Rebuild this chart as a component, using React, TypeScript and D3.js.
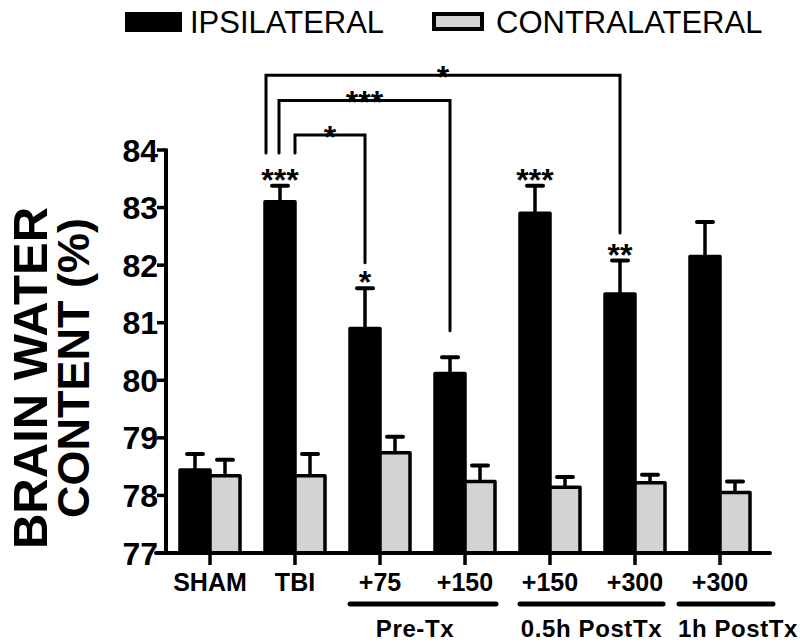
import React from "react";
import * as d3 from "d3";

const groupIds = ["sham", "tbi", "pre75", "pre150", "post05_150", "post05_300", "post1_300"];
const groupLabels = ["SHAM", "TBI", "+75", "+150", "+150", "+300", "+300"];
const ipsiMean = [78.44, 83.1, 80.9, 80.12, 82.9, 81.5, 82.15];
const ipsiErr = [0.28, 0.28, 0.7, 0.28, 0.48, 0.58, 0.6];
const contraMean = [78.34, 78.34, 78.74, 78.24, 78.14, 78.22, 78.05];
const contraErr = [0.28, 0.38, 0.28, 0.28, 0.18, 0.14, 0.19];
const yTicks = [77, 78, 79, 80, 81, 82, 83, 84];
const seriesNames = ["IPSILATERAL", "CONTRALATERAL"];
// stars above ipsilateral bars (vs sham)
const starGroups = ["tbi", "pre75", "post05_150", "post05_300"];
const starLabels = ["***", "*", "***", "**"];
// comparison brackets from TBI
const bracketTargets = ["post05_300", "pre150", "pre75"];
const bracketLabels = ["*", "***", "*"];
const bracketLevels = [85.3, 84.86, 84.26];
const bracketLeftEnd = [83.95, 83.95, 83.95];
const bracketRightEnd = [82.56, 80.86, 82.04];
const bracketLeftShift = [-14, -1, 15];
// group underlines
const treatmentNames = ["Pre-Tx", "0.5h PostTx", "1h PostTx"];
const treatmentGroups = [["pre75", "pre150"], ["post05_150", "post05_300"], ["post1_300"]];
const underlinePadLeft = [30, 30, 41];
const underlinePadRight = [31, 28, 53];
const treatmentLabelShift = [-8, 0, 12];

const W = 800;
const H = 644;
const FONT = "'Liberation Sans', Arial, sans-serif";

export default function App() {
  const y = d3.scaleLinear().domain([77, 84]).range([553, 150]);
  const x = d3.scalePoint<string>().domain(groupIds).range([210, 720]);
  const barW = 30;
  const axisX = 166;
  const axisY = y(77);
  const stroke = 3.5;
  const gray = "#d3d3d3";
  const ipsiC = (id: string) => (x(id) as number) - barW / 2;

  const errBar = (cx: number, m: number, e: number, key: string) => (
    <g key={key}>
      <line x1={cx} x2={cx} y1={y(m)} y2={y(m + e)} stroke="#000" strokeWidth={3.5} />
      <line x1={cx - 8} x2={cx + 8} y1={y(m + e)} y2={y(m + e)} stroke="#000" strokeWidth={4} strokeLinecap="round" />
    </g>
  );

  return (
    <svg width={W} height={H} style={{ position: "absolute", left: 0, top: 0, background: "#fff" }} fontFamily={FONT}>
      {/* legend */}
      <rect x={125} y={12} width={57} height={20} fill="#000" />
      <text x={190} y={33} fontSize={31}>{seriesNames[0]}</text>
      <rect x={434} y={14} width={48} height={15} fill={gray} stroke="#000" strokeWidth={4} />
      <text x={496} y={33} fontSize={31}>{seriesNames[1]}</text>

      {/* y label */}
      <text transform={`translate(47,378) rotate(-90)`} textAnchor="middle" fontSize={49} fontWeight="bold">BRAIN WATER</text>
      <text transform={`translate(89,368) rotate(-90)`} textAnchor="middle" fontSize={45} fontWeight="bold">CONTENT (%)</text>

      {/* bars */}
      {groupIds.map((id, i) => {
        const c = x(id) as number;
        return (
          <g key={id}>
            {errBar(c - barW / 2, ipsiMean[i], ipsiErr[i], "ie" + id)}
            {errBar(c + barW / 2, contraMean[i], contraErr[i], "ce" + id)}
            <rect x={c - barW} y={y(ipsiMean[i])} width={barW} height={axisY - y(ipsiMean[i])} fill="#000" stroke="#000" strokeWidth={stroke} strokeLinejoin="round" />
            <rect x={c} y={y(contraMean[i])} width={barW} height={axisY - y(contraMean[i])} fill={gray} stroke="#000" strokeWidth={stroke} strokeLinejoin="round" />
          </g>
        );
      })}

      {/* axes */}
      <line x1={axisX} x2={axisX} y1={y(84) - 1.5} y2={axisY} stroke="#000" strokeWidth={4} />
      <line x1={axisX - 10} x2={770} y1={axisY} y2={axisY} stroke="#000" strokeWidth={4} strokeLinecap="round" />
      {yTicks.map((t) => (
        <g key={t}>
          <line x1={axisX - 9} x2={axisX} y1={y(t)} y2={y(t)} stroke="#000" strokeWidth={3.5} />
          <text x={axisX - 8} y={y(t)} dy="0.36em" textAnchor="end" fontSize={32} fontWeight="bold">{t}</text>
        </g>
      ))}
      {groupIds.map((id, i) => (
        <g key={"xt" + id}>
          <line x1={x(id) as number} x2={x(id) as number} y1={axisY} y2={axisY + 12} stroke="#000" strokeWidth={3.5} />
          <text x={x(id) as number} y={591} textAnchor="middle" fontSize={25} fontWeight="bold">{groupLabels[i]}</text>
        </g>
      ))}

      {/* treatment underlines */}
      {treatmentGroups.map((gs, k) => {
        const xs = gs.map((g) => x(g) as number);
        const lo = d3.min(xs)! - underlinePadLeft[k];
        const hi = d3.max(xs)! + underlinePadRight[k];
        const mid = (lo + hi) / 2;
        return (
          <g key={"tr" + k}>
            <line x1={lo} x2={hi} y1={604} y2={604} stroke="#000" strokeWidth={5} strokeLinecap="round" />
            <text x={mid + treatmentLabelShift[k]} y={637} textAnchor="middle" fontSize={24} letterSpacing={0.6} fontWeight="bold">{treatmentNames[k]}</text>
          </g>
        );
      })}

      {/* stars above bars */}
      {starGroups.map((g, k) => {
        const i = groupIds.indexOf(g);
        const top = y(ipsiMean[i] + ipsiErr[i]);
        return (
          <text key={"st" + k} x={ipsiC(g)} y={top + 5} textAnchor="middle" fontSize={32} fontWeight="bold">{starLabels[k]}</text>
        );
      })}

      {/* brackets */}
      {bracketTargets.map((g, k) => {
        const xl = ipsiC("tbi") + bracketLeftShift[k];
        const xr = ipsiC(g);
        const yl = y(bracketLevels[k]);
        return (
          <g key={"br" + k}>
            <path d={`M${xl},${y(bracketLeftEnd[k])}V${yl}H${xr}V${y(bracketRightEnd[k])}`} fill="none" stroke="#000" strokeWidth={3} strokeLinecap="round" />
            <text x={(xl + xr) / 2} y={yl + 13} textAnchor="middle" fontSize={32} fontWeight="bold">{bracketLabels[k]}</text>
          </g>
        );
      })}
    </svg>
  );
}
